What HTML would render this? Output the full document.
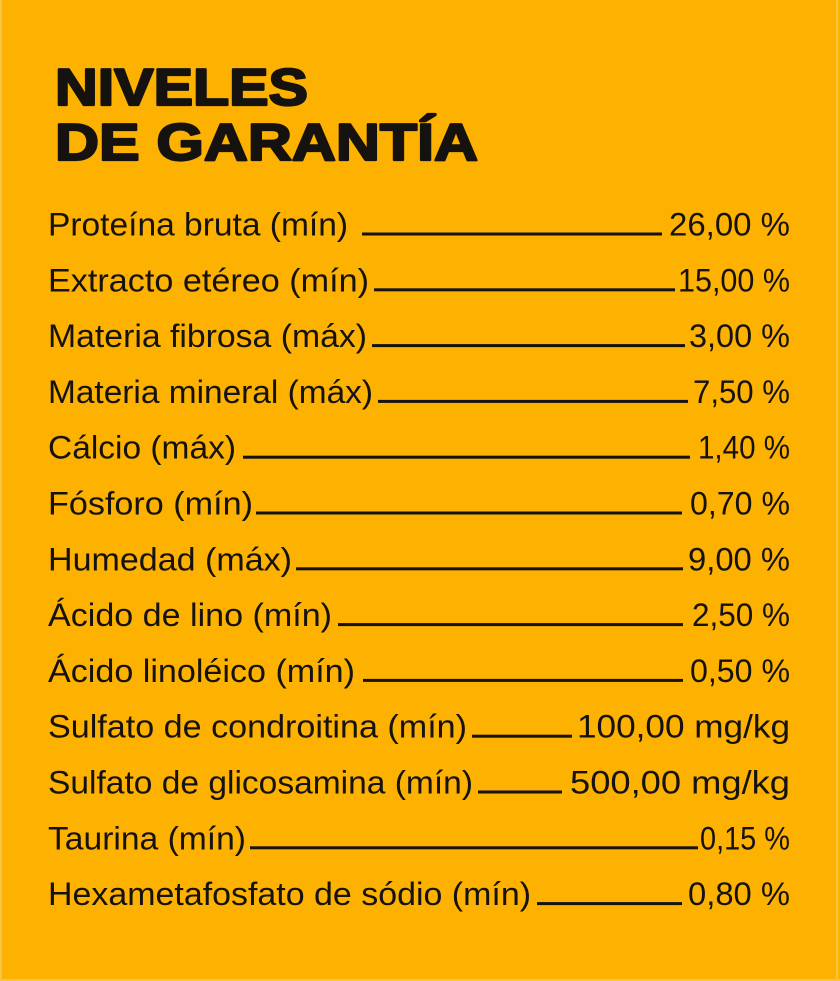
<!DOCTYPE html>
<html>
<head>
<meta charset="utf-8">
<style>
  html, body { margin:0; padding:0; background:#FDB100; }
  body { width:840px; height:981px; overflow:hidden; }
  svg { display:block; }
  .t { font-family:"Liberation Sans", "DejaVu Sans", sans-serif; fill:#15120f; }
  .lab { font-size:32px; }
  .ttl { font-size:52px; font-weight:bold; stroke:#15120f; stroke-width:2.2; stroke-linejoin:round; }
</style>
</head>
<body>
<svg width="840" height="981" viewBox="0 0 840 981" xmlns="http://www.w3.org/2000/svg">
  <rect x="0" y="0" width="840" height="981" fill="#FDB100"/>
  <rect x="0" y="0" width="2" height="981" fill="#F8C444"/>
  <rect x="836" y="0" width="2" height="981" fill="#F8C444"/>
  <rect x="0" y="979" width="840" height="2" fill="#F8C444"/>

  <text class="t ttl" x="55" y="105" textLength="253" lengthAdjust="spacingAndGlyphs">NIVELES</text>
  <text class="t ttl" x="55" y="160" textLength="423" lengthAdjust="spacingAndGlyphs">DE GARANTÍA</text>

  <g fill="#15120f">
    <rect x="362" y="232.5" width="300" height="3"/>
    <rect x="374" y="288.3" width="301" height="3"/>
    <rect x="372" y="344.1" width="313" height="3"/>
    <rect x="378" y="399.9" width="310" height="3"/>
    <rect x="243" y="455.7" width="447" height="3"/>
    <rect x="256" y="511.5" width="426" height="3"/>
    <rect x="296" y="567.3" width="387" height="3"/>
    <rect x="338" y="623.1" width="345" height="3"/>
    <rect x="363" y="678.9" width="320" height="3"/>
    <rect x="472" y="734.7" width="100" height="3"/>
    <rect x="478" y="790.5" width="84" height="3"/>
    <rect x="250" y="846.3" width="448" height="3"/>
    <rect x="537" y="902.1" width="145" height="3"/>
  </g>

  <g class="t lab">
    <text x="48" y="235.5" textLength="300" lengthAdjust="spacingAndGlyphs">Proteína bruta (mín)</text>
    <text x="48" y="291.3" textLength="321" lengthAdjust="spacingAndGlyphs">Extracto etéreo (mín)</text>
    <text x="48" y="347.1" textLength="319" lengthAdjust="spacingAndGlyphs">Materia fibrosa (máx)</text>
    <text x="48" y="402.9" textLength="325" lengthAdjust="spacingAndGlyphs">Materia mineral (máx)</text>
    <text x="48" y="458.7" textLength="188" lengthAdjust="spacingAndGlyphs">Cálcio (máx)</text>
    <text x="48" y="514.5" textLength="205" lengthAdjust="spacingAndGlyphs">Fósforo (mín)</text>
    <text x="48" y="570.3" textLength="244" lengthAdjust="spacingAndGlyphs">Humedad (máx)</text>
    <text x="48" y="626.1" textLength="284" lengthAdjust="spacingAndGlyphs">Ácido de lino (mín)</text>
    <text x="48" y="681.9" textLength="307" lengthAdjust="spacingAndGlyphs">Ácido linoléico (mín)</text>
    <text x="48" y="737.7" textLength="419" lengthAdjust="spacingAndGlyphs">Sulfato de condroitina (mín)</text>
    <text x="48" y="793.5" textLength="425" lengthAdjust="spacingAndGlyphs">Sulfato de glicosamina (mín)</text>
    <text x="48" y="849.3" textLength="198" lengthAdjust="spacingAndGlyphs">Taurina (mín)</text>
    <text x="48" y="905.1" textLength="483" lengthAdjust="spacingAndGlyphs">Hexametafosfato de sódio (mín)</text>
  </g>

  <g class="t lab">
    <text x="669" y="235.5" textLength="121" lengthAdjust="spacingAndGlyphs">26,00 %</text>
    <text x="678" y="291.3" textLength="112" lengthAdjust="spacingAndGlyphs">15,00 %</text>
    <text x="689" y="347.1" textLength="101" lengthAdjust="spacingAndGlyphs">3,00 %</text>
    <text x="693" y="402.9" textLength="97" lengthAdjust="spacingAndGlyphs">7,50 %</text>
    <text x="698" y="458.7" textLength="92" lengthAdjust="spacingAndGlyphs">1,40 %</text>
    <text x="690" y="514.5" textLength="100" lengthAdjust="spacingAndGlyphs">0,70 %</text>
    <text x="688" y="570.3" textLength="102" lengthAdjust="spacingAndGlyphs">9,00 %</text>
    <text x="692" y="626.1" textLength="98" lengthAdjust="spacingAndGlyphs">2,50 %</text>
    <text x="690" y="681.9" textLength="100" lengthAdjust="spacingAndGlyphs">0,50 %</text>
    <text x="577" y="737.7" textLength="213" lengthAdjust="spacingAndGlyphs">100,00 mg/kg</text>
    <text x="570" y="793.5" textLength="220" lengthAdjust="spacingAndGlyphs">500,00 mg/kg</text>
    <text x="700" y="849.3" textLength="90" lengthAdjust="spacingAndGlyphs">0,15 %</text>
    <text x="688" y="905.1" textLength="102" lengthAdjust="spacingAndGlyphs">0,80 %</text>
  </g>
</svg>
</body>
</html>
